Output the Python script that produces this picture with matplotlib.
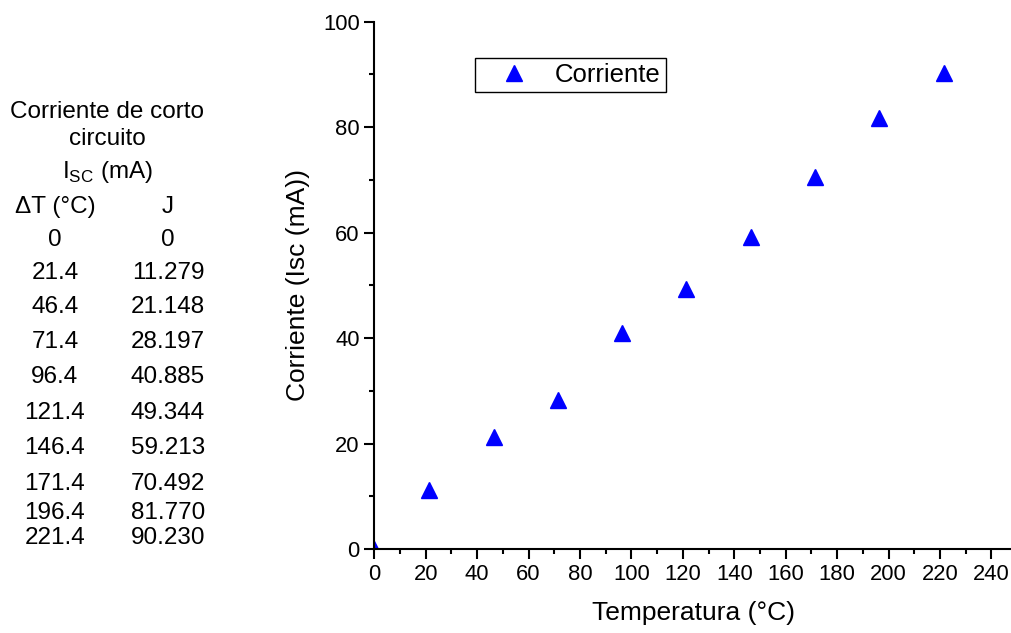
import matplotlib.pyplot as plt
from matplotlib.ticker import MultipleLocator

plt.rcParams['font.family'] = ['Liberation Sans', 'DejaVu Sans']

delta_t = [0, 21.4, 46.4, 71.4, 96.4, 121.4, 146.4, 171.4, 196.4, 221.4]
corriente = [0, 11.279, 21.148, 28.197, 40.885, 49.344, 59.213, 70.492, 81.770, 90.230]
dt_labels = ['0', '21.4', '46.4', '71.4', '96.4', '121.4', '146.4', '171.4', '196.4', '221.4']
j_labels = ['0', '11.279', '21.148', '28.197', '40.885', '49.344', '59.213', '70.492', '81.770', '90.230']
row_y = [240, 273, 307, 342, 377, 413, 448, 484, 513, 538]

W, H = 1012, 633
fig = plt.figure(figsize=(W / 100, H / 100), dpi=100)
ax = fig.add_axes([374.3 / W, 1 - 549 / H, (W - 374.3) / W, (549 - 21.7) / H])

ax.plot(delta_t, corriente, linestyle='none', marker='^', color='blue',
        markersize=11, label='Corriente')

ax.set_xlim(0, 248)
ax.set_ylim(0, 100)
ax.xaxis.set_major_locator(MultipleLocator(20))
ax.xaxis.set_minor_locator(MultipleLocator(10))
ax.yaxis.set_major_locator(MultipleLocator(20))
ax.yaxis.set_minor_locator(MultipleLocator(10))
ax.spines['top'].set_visible(False)
ax.spines['right'].set_visible(False)
for s in ('left', 'bottom'):
    ax.spines[s].set_linewidth(1.5)
ax.tick_params(which='major', direction='out', length=7, width=1.5, labelsize=15.8)
ax.tick_params(which='minor', direction='out', length=3.5, width=1.5)
ax.set_xlabel('Temperatura (°C)', fontsize=19, labelpad=12)
ax.set_ylabel('Corriente (Isc (mA))', fontsize=19, labelpad=9)

leg = ax.legend(loc='center left', bbox_to_anchor=(475 / W, 1 - 75 / H),
                bbox_transform=fig.transFigure, fontsize=18.5, fancybox=False,
                edgecolor='black', framealpha=1, handletextpad=0.3,
                borderpad=0.2, handlelength=2.6, borderaxespad=0)
leg.get_frame().set_linewidth(1)

# table on the left
def fx(px):
    return px / W

def fy(py):
    return 1 - py / H

fs = 17.5
fig.text(fx(107), fy(112), 'Corriente de corto', ha='center', va='center', fontsize=fs)
fig.text(fx(107), fy(139), 'circuito', ha='center', va='center', fontsize=fs)
fig.text(fx(107), fy(172), r'I$_{\mathregular{SC}}$ (mA)', ha='center', va='center', fontsize=fs)
fig.text(fx(55), fy(207), 'ΔT (°C)', ha='center', va='center', fontsize=fs)
fig.text(fx(168), fy(207), 'J', ha='center', va='center', fontsize=fs)
for lab_a, lab_b, py in zip(dt_labels, j_labels, row_y):
    fig.text(fx(55), fy(py), lab_a, ha='center', va='center', fontsize=fs)
    fig.text(fx(168), fy(py), lab_b, ha='center', va='center', fontsize=fs)

fig.savefig('out.png', dpi=100)
